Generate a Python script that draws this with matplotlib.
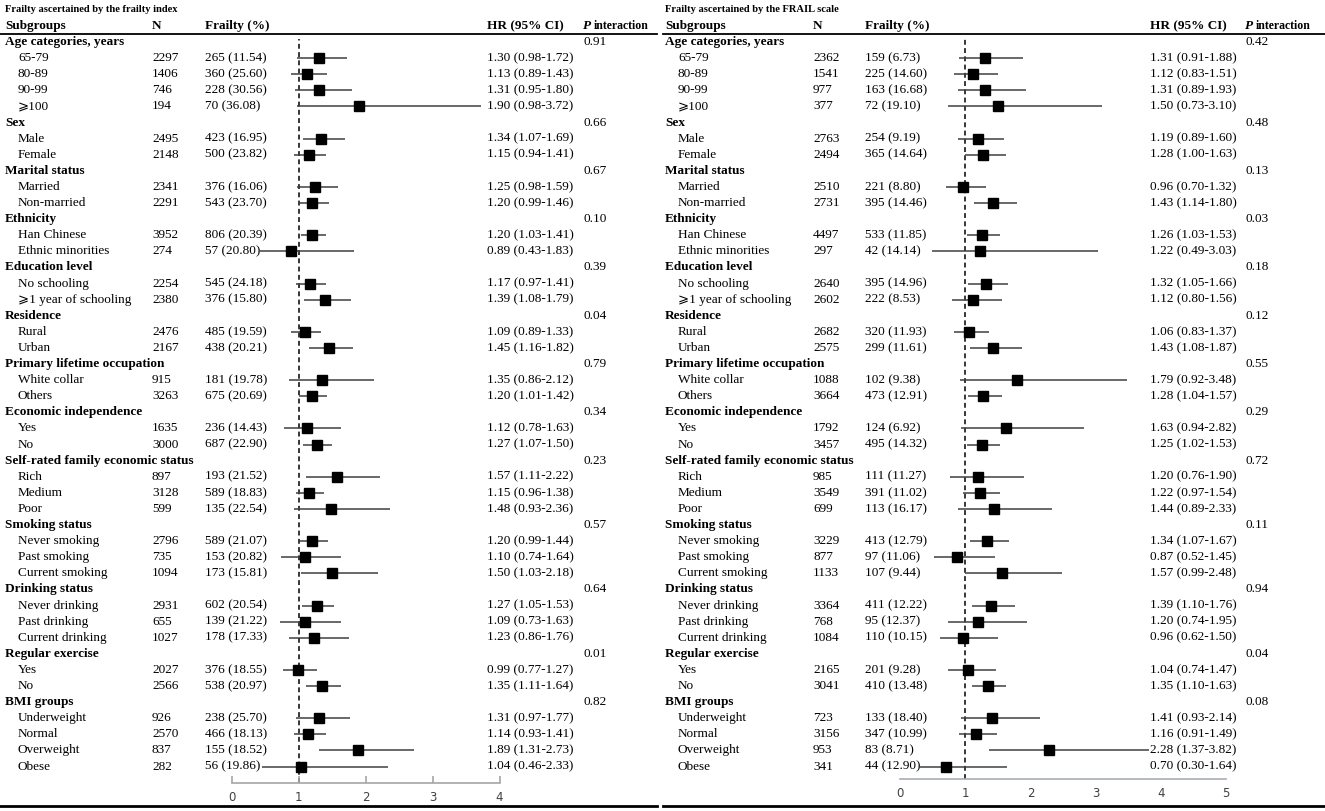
import matplotlib
matplotlib.use('Agg')
import matplotlib.pyplot as plt
from matplotlib.lines import Line2D
from matplotlib.transforms import blended_transform_factory

plt.rcParams['font.family'] = ['Liberation Serif', 'DejaVu Sans']

W, H = 1325, 811

# ---- datos ----
group_names = ["Age categories, years", "Sex", "Marital status", "Ethnicity", "Education level",
               "Residence", "Primary lifetime occupation", "Economic independence",
               "Self-rated family economic status", "Smoking status", "Drinking status",
               "Regular exercise", "BMI groups"]
group_sizes = [4, 2, 2, 2, 2, 2, 2, 2, 3, 3, 3, 2, 4]
subgroups = ["65-79", "80-89", "90-99", "\u2a7e100", "Male", "Female", "Married", "Non-married",
             "Han Chinese", "Ethnic minorities", "No schooling", "\u2a7e1 year of schooling",
             "Rural", "Urban", "White collar", "Others", "Yes", "No", "Rich", "Medium", "Poor",
             "Never smoking", "Past smoking", "Current smoking", "Never drinking", "Past drinking",
             "Current drinking", "Yes", "No", "Underweight", "Normal", "Overweight", "Obese"]

# frailty index
fi_n = [2297, 1406, 746, 194, 2495, 2148, 2341, 2291, 3952, 274, 2254, 2380, 2476, 2167, 915, 3263,
        1635, 3000, 897, 3128, 599, 2796, 735, 1094, 2931, 655, 1027, 2027, 2566, 926, 2570, 837, 282]
fi_cases = [265, 360, 228, 70, 423, 500, 376, 543, 806, 57, 545, 376, 485, 438, 181, 675,
            236, 687, 193, 589, 135, 589, 153, 173, 602, 139, 178, 376, 538, 238, 466, 155, 56]
fi_pct = ["11.54", "25.60", "30.56", "36.08", "16.95", "23.82", "16.06", "23.70", "20.39", "20.80",
          "24.18", "15.80", "19.59", "20.21", "19.78", "20.69", "14.43", "22.90", "21.52", "18.83",
          "22.54", "21.07", "20.82", "15.81", "20.54", "21.22", "17.33", "18.55", "20.97", "25.70",
          "18.13", "18.52", "19.86"]
fi_hr = [1.30, 1.13, 1.31, 1.90, 1.34, 1.15, 1.25, 1.20, 1.20, 0.89, 1.17, 1.39, 1.09, 1.45, 1.35, 1.20,
         1.12, 1.27, 1.57, 1.15, 1.48, 1.20, 1.10, 1.50, 1.27, 1.09, 1.23, 0.99, 1.35, 1.31, 1.14, 1.89, 1.04]
fi_lo = [0.98, 0.89, 0.95, 0.98, 1.07, 0.94, 0.98, 0.99, 1.03, 0.43, 0.97, 1.08, 0.89, 1.16, 0.86, 1.01,
         0.78, 1.07, 1.11, 0.96, 0.93, 0.99, 0.74, 1.03, 1.05, 0.73, 0.86, 0.77, 1.11, 0.97, 0.93, 1.31, 0.46]
fi_hi = [1.72, 1.43, 1.80, 3.72, 1.69, 1.41, 1.59, 1.46, 1.41, 1.83, 1.41, 1.79, 1.33, 1.82, 2.12, 1.42,
         1.63, 1.50, 2.22, 1.38, 2.36, 1.44, 1.64, 2.18, 1.53, 1.63, 1.76, 1.27, 1.64, 1.77, 1.41, 2.73, 2.33]
fi_p = ["0.91", "0.66", "0.67", "0.10", "0.39", "0.04", "0.79", "0.34", "0.23", "0.57", "0.64", "0.01", "0.82"]

# FRAIL scale
fs_n = [2362, 1541, 977, 377, 2763, 2494, 2510, 2731, 4497, 297, 2640, 2602, 2682, 2575, 1088, 3664,
        1792, 3457, 985, 3549, 699, 3229, 877, 1133, 3364, 768, 1084, 2165, 3041, 723, 3156, 953, 341]
fs_cases = [159, 225, 163, 72, 254, 365, 221, 395, 533, 42, 395, 222, 320, 299, 102, 473,
            124, 495, 111, 391, 113, 413, 97, 107, 411, 95, 110, 201, 410, 133, 347, 83, 44]
fs_pct = ["6.73", "14.60", "16.68", "19.10", "9.19", "14.64", "8.80", "14.46", "11.85", "14.14",
          "14.96", "8.53", "11.93", "11.61", "9.38", "12.91", "6.92", "14.32", "11.27", "11.02",
          "16.17", "12.79", "11.06", "9.44", "12.22", "12.37", "10.15", "9.28", "13.48", "18.40",
          "10.99", "8.71", "12.90"]
fs_hr = [1.31, 1.12, 1.31, 1.50, 1.19, 1.28, 0.96, 1.43, 1.26, 1.22, 1.32, 1.12, 1.06, 1.43, 1.79, 1.28,
         1.63, 1.25, 1.20, 1.22, 1.44, 1.34, 0.87, 1.57, 1.39, 1.20, 0.96, 1.04, 1.35, 1.41, 1.16, 2.28, 0.70]
fs_lo = [0.91, 0.83, 0.89, 0.73, 0.89, 1.00, 0.70, 1.14, 1.03, 0.49, 1.05, 0.80, 0.83, 1.08, 0.92, 1.04,
         0.94, 1.02, 0.76, 0.97, 0.89, 1.07, 0.52, 0.99, 1.10, 0.74, 0.62, 0.74, 1.10, 0.93, 0.91, 1.37, 0.30]
fs_hi = [1.88, 1.51, 1.93, 3.10, 1.60, 1.63, 1.32, 1.80, 1.53, 3.03, 1.66, 1.56, 1.37, 1.87, 3.48, 1.57,
         2.82, 1.53, 1.90, 1.54, 2.33, 1.67, 1.45, 2.48, 1.76, 1.95, 1.50, 1.47, 1.63, 2.14, 1.49, 3.82, 1.64]
fs_p = ["0.42", "0.48", "0.13", "0.03", "0.18", "0.12", "0.55", "0.29", "0.72", "0.11", "0.94", "0.04", "0.08"]

ROW0, ROWH = 42, 16.1   # posicion en pixeles de la primera fila y alto de fila
FS = 9.5

fig = plt.figure(figsize=(W / 100, H / 100), dpi=100)


def fx(x):
    return x / W


def fy(y):
    return 1 - y / H


def draw_panel(title, cols, axbox, line_span, n, cases, pct, hr, lo, hi, pvals, xmax, ticks_in, spine_col):
    x_sub, x_n, x_fr, x_hr, x_p = cols
    a_left, a_right, a_bottom = axbox
    top = 38
    ax = fig.add_axes([fx(a_left), fy(a_bottom), (a_right - a_left) / W, (a_bottom - top) / H])
    ymax = (a_bottom - ROW0) / ROWH
    ax.set_xlim(0, xmax)
    ax.set_ylim(ymax, (top - ROW0) / ROWH)
    for s in ['left', 'right', 'top']:
        ax.spines[s].set_visible(False)
    ax.spines['bottom'].set_color(spine_col)
    ax.spines['bottom'].set_linewidth(1.2)
    ax.set_yticks([])
    ax.set_xticks(range(xmax + 1))
    ax.tick_params(axis='x', direction='in', length=5 if ticks_in else 0, color=spine_col,
                   width=1.2, labelsize=8.5, labelcolor='#404040', pad=6)
    for lab in ax.get_xticklabels():
        lab.set_family('DejaVu Sans')
    ax.patch.set_alpha(0)

    tr = blended_transform_factory(fig.transFigure, ax.transData)

    # titulo y cabecera
    fig.text(fx(x_sub), fy(10), title, fontsize=7.6, fontweight='bold', va='center')
    fig.text(fx(x_sub), fy(26), "Subgroups", fontsize=FS, fontweight='bold', va='center')
    fig.text(fx(x_n), fy(26), "N", fontsize=FS, fontweight='bold', va='center')
    fig.text(fx(x_fr), fy(26), "Frailty (%)", fontsize=FS, fontweight='bold', va='center')
    fig.text(fx(x_hr), fy(26), "HR (95% CI)", fontsize=FS, fontweight='bold', va='center')
    fig.text(fx(x_p), fy(26), "P", fontsize=FS, fontweight='bold', style='italic', va='center')
    fig.text(fx(x_p + 11), fy(26), "interaction", fontsize=8.5, fontweight='bold', va='center')

    fig.add_artist(Line2D([fx(line_span[0]), fx(line_span[1])], [fy(34), fy(34)], color='k', lw=1.3))
    fig.add_artist(Line2D([fx(line_span[0]), fx(line_span[1])], [fy(805.5), fy(805.5)], color='k', lw=2))

    rows = []
    r = 0
    k = 0
    for g, size, p in zip(group_names, group_sizes, pvals):
        ax.text(fx(x_sub), r, g, transform=tr, fontsize=FS, fontweight='bold', va='center')
        ax.text(fx(x_p), r, p, transform=tr, fontsize=FS, va='center')
        r += 1
        for j in range(size):
            ax.text(fx(x_sub + 13), r, subgroups[k], transform=tr, fontsize=FS, va='center')
            ax.text(fx(x_n), r, str(n[k]), transform=tr, fontsize=FS, va='center')
            ax.text(fx(x_fr), r, f"{cases[k]} ({pct[k]})", transform=tr, fontsize=FS, va='center')
            ax.text(fx(x_hr), r, f"{hr[k]:.2f} ({lo[k]:.2f}-{hi[k]:.2f})", transform=tr,
                    fontsize=FS, va='center')
            rows.append(r)
            r += 1
            k += 1

    ax.plot([1, 1], [ymax, -0.2], color='k', lw=1.1, ls=(0, (3.2, 2.2)), clip_on=False, zorder=1)
    ax.hlines(rows, lo, hi, color='#404040', lw=1.1, clip_on=False, zorder=2)
    ax.plot(hr, rows, 's', color='k', ms=6.5, clip_on=False, zorder=3)
    return ax


draw_panel("Frailty ascertained by the frailty index", (5, 152, 205, 487, 583),
           (231.5, 499.5, 783), (0, 657), fi_n, fi_cases, fi_pct, fi_hr, fi_lo, fi_hi, fi_p, 4,
           True, '#a6a6a6')
draw_panel("Frailty ascertained by the FRAIL scale", (665, 813, 865, 1150, 1245),
           (900, 1226, 779), (663, 1325), fs_n, fs_cases, fs_pct, fs_hr, fs_lo, fs_hi, fs_p, 5,
           False, '#a7adb8')

fig.savefig("out.png", dpi=100)
